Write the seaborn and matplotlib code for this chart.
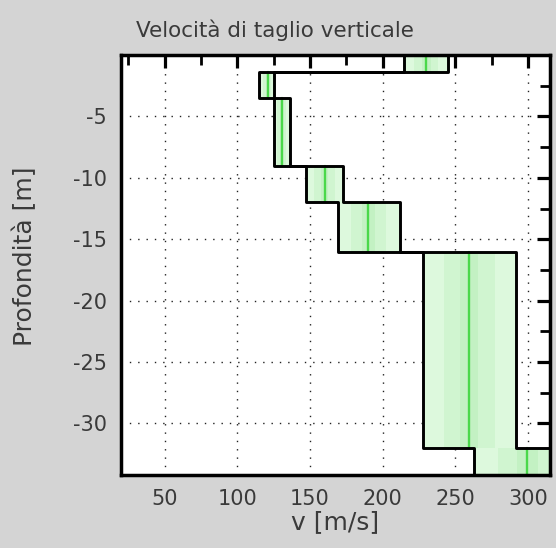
import numpy as np
import pandas as pd
import matplotlib
matplotlib.use("Agg")
import matplotlib.pyplot as plt
import seaborn as sns
from matplotlib.ticker import MultipleLocator

# ---- data ----
depth_top = [0.0, -1.4, -3.5, -9.0, -12.0, -16.0, -32.0]
depth_bot = [-1.4, -3.5, -9.0, -12.0, -16.0, -32.0, -40.0]
v_mean = [230.0, 121.0, 130.5, 160.0, 190.0, 259.5, 299.5]
v_min = [215.0, 115.0, 125.0, 147.0, 169.0, 227.5, 263.0]
v_max = [245.0, 125.0, 136.5, 173.0, 212.0, 291.5, 336.0]

title = "Velocità di taglio verticale"
xlabel = "v [m/s]"
ylabel = "Profondità [m]"
xticks = [50, 100, 150, 200, 250, 300]
yticks = [-5, -10, -15, -20, -25, -30]

sns.set_theme(style="white")
plt.rcParams["font.family"] = ["DejaVu Sans"]
plt.rcParams["axes.unicode_minus"] = False

BG = "#d4d4d4"
TXT = "#3a3a3a"

fig = plt.figure(figsize=(5.56, 5.48), dpi=100, facecolor=BG)
ax = fig.add_axes([0.2176, 0.1332, 0.7714, 0.7664])
ax.set_facecolor("white")

# uncertainty bands with a soft gradient toward the centre
for top, bot, m, lo, hi in zip(depth_top, depth_bot, v_mean, v_min, v_max):
    ax.fill_betweenx([bot, top], lo, hi, color="#ddf9dd", lw=0, zorder=1)
    ax.fill_betweenx([bot, top], m - (m - lo) * 0.55, m + (hi - m) * 0.55,
                     color="#d0f5d0", lw=0, zorder=1)
    ax.fill_betweenx([bot, top], m - (m - lo) * 0.2, m + (hi - m) * 0.2,
                     color="#c3f1c3", lw=0, zorder=1)

# centre velocity lines
rows = []
for i, (top, bot, m) in enumerate(zip(depth_top, depth_bot, v_mean)):
    rows.append({"layer": i, "v": m, "z": top})
    rows.append({"layer": i, "v": m, "z": bot})
df_c = pd.DataFrame(rows)
sns.lineplot(data=df_c, x="v", y="z", units="layer", estimator=None, sort=False,
             color="#4ad84a", lw=1.7, ax=ax, zorder=3)

# step outlines for min and max profiles
def step_frame(vals, name):
    r = []
    for top, bot, v in zip(depth_top, depth_bot, vals):
        r.append({"prof": name, "v": v, "z": top})
        r.append({"prof": name, "v": v, "z": bot})
    return r

df_s = pd.DataFrame(step_frame(v_min, "min") + step_frame(v_max, "max"))
sns.lineplot(data=df_s, x="v", y="z", units="prof", estimator=None, sort=False,
             color="black", lw=2.1, ax=ax, zorder=4)

ax.set_xlim(20, 315)
ax.set_ylim(-34.2, 0)
ax.set_xticks(xticks)
ax.set_yticks(yticks)
ax.xaxis.set_minor_locator(MultipleLocator(25))
ax.yaxis.set_minor_locator(MultipleLocator(2.5))
ax.grid(True, which="major", color="#222222", linestyle=(0, (1, 5)), lw=1.0, zorder=2)

ax.tick_params(which="both", direction="in", top=True, right=True, color="black",
               labelsize=15, labelcolor=TXT)
ax.tick_params(which="major", length=9.5, width=2.3, pad=10)
ax.tick_params(which="minor", length=7, width=2.0)
for s in ax.spines.values():
    s.set_visible(True)
    s.set_color("black")
    s.set_linewidth(2.5)
    s.set_zorder(6)

fig.suptitle(title, fontsize=15.5, color=TXT, x=0.495, y=0.945, va="center")
ax.set_xlabel(xlabel, fontsize=18, color=TXT, labelpad=1)
ax.set_ylabel(ylabel, fontsize=18, color=TXT)
ax.yaxis.set_label_coords(-0.195, 0.52)
if ax.get_legend() is not None:
    ax.get_legend().remove()

fig.savefig("out.png", dpi=100, facecolor=BG)
